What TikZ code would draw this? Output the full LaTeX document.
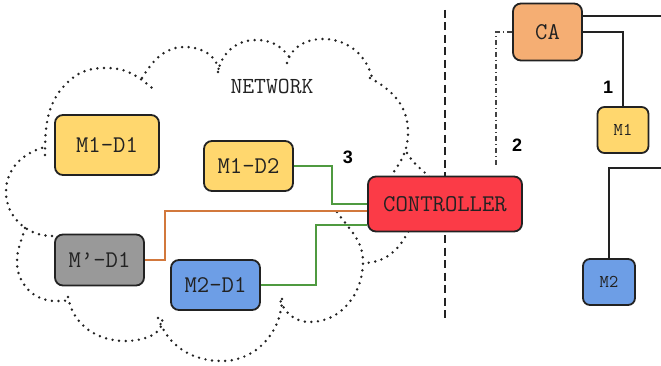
\documentclass[tikz,border=0pt]{standalone}
\usepackage{fontspec}
\usetikzlibrary{backgrounds}
\newfontfamily\numfont{Liberation Sans}

\definecolor{ink}{HTML}{222222}
\definecolor{yellowc}{HTML}{FFD76E}
\definecolor{orangec}{HTML}{F5AE73}
\definecolor{redc}{HTML}{FB3B47}
\definecolor{grayc}{HTML}{999999}
\definecolor{bluec}{HTML}{6D9EE6}
\definecolor{greenc}{HTML}{4F9A40}
\definecolor{rustc}{HTML}{D2783C}
\definecolor{dotc}{HTML}{222222}

\tikzset{
  box/.style={draw=ink, line width=1.8pt, rounded corners=8pt, inner sep=0pt,
    text=ink, font=\ttfamily\fontsize{24}{26}\selectfont},
  smallbox/.style={box, rounded corners=7pt, font=\ttfamily\fontsize{18}{20}\selectfont},
  num/.style={font=\numfont\bfseries\fontsize{18}{20}\selectfont, text=black},
  wire/.style={draw=ink, line width=2pt},
  greenwire/.style={draw=greenc, line width=2pt},
  rustwire/.style={draw=rustc, line width=2pt},
  cloudline/.style={draw=dotc, line width=2.7pt, line cap=round,
    dash pattern=on 0pt off 6.6pt},
  splitline/.style={draw=ink, line width=2pt, dash pattern=on 8pt off 4.5pt},
  dashdotline/.style={draw=ink!85, line width=1.4pt,
    dash pattern=on 5pt off 3pt on 1pt off 3pt},
}

\begin{document}
\begin{tikzpicture}[x=1pt, y=1pt]
\useasboundingbox (0,0) rectangle (661,-366);

% devices inside the network
\node[box, fill=yellowc, minimum width=104pt, minimum height=60pt] (m1d1) at (107,-145) {M1-D1};
\node[box, fill=yellowc, minimum width=89pt, minimum height=50pt] (m1d2) at (248.5,-166) {M1-D2};
\node[box, fill=grayc, minimum width=89pt, minimum height=51pt] (mpd1) at (99.5,-260) {M’-D1};
\node[box, fill=bluec, minimum width=89pt, minimum height=50pt] (m2d1) at (215.5,-285) {M2-D1};
\node[box, fill=redc, minimum width=154pt, minimum height=55pt] (ctrl) at (445,-204) {CONTROLLER};

% right-hand side
\node[box, fill=orangec, minimum width=69pt, minimum height=57pt] (ca) at (547.5,-32) {CA};
\node[smallbox, fill=yellowc, minimum width=51pt, minimum height=46pt] (m1) at (623,-130) {M1};
\node[smallbox, fill=bluec, minimum width=52pt, minimum height=46pt] (m2) at (609,-282) {M2};

\node[text=ink, font=\ttfamily\fontsize{23}{25}\selectfont] (net) at (272,-86) {NETWORK};

\node[num] (n1) at (608,-87) {1};
\node[num] (n2) at (517,-145) {2};
\node[num] (n3) at (348,-157) {3};

\coordinate (e1) at (661,-16);
\coordinate (e3) at (661,-168);
\coordinate (ddend) at (496,-167);
\coordinate (dtop) at (445,-10);
\coordinate (dbot) at (445,-318);

\begin{pgfonlayer}{background}
  \fill[white] (0,0) rectangle (661,-366);

  % network cloud
  \draw[cloudline] (45,-155) to[out=90,in=222] (70,-80) to[out=40,in=180] (107,-68) to[out=0,in=140] (152,-88);
  \draw[cloudline] (142,-78) to[out=58,in=180] (185,-47) to[out=0,in=95] (219,-72);
  \draw[cloudline] (218,-72) to[out=80,in=180] (256,-40) to[out=0,in=125] (290,-58);
  \draw[cloudline] (287,-63) to[out=75,in=180] (323,-39) to[out=0,in=100] (373,-82);
  \draw[cloudline] (370,-78) to[out=-28,in=90] (408,-132) to[out=-90,in=55] (393,-173);
  \draw[cloudline] (407,-153) to[out=-60,in=90] (440,-200) to[out=-90,in=60] (408,-232) to[out=243,in=0] (363,-263);
  \draw[cloudline] (337,-212) to[out=-55,in=90] (363,-262) to[out=-90,in=0] (310,-322) to[out=180,in=-70] (280,-300);
  \draw[cloudline] (158,-318) to[out=-70,in=180] (222,-361) to[out=0,in=-90] (282,-298);
  \draw[cloudline] (68,-297) to[out=-80,in=180] (125,-341) to[out=0,in=-80] (162,-318);
  \draw[cloudline] (25,-228) to[out=-105,in=90] (17,-262) to[out=-90,in=180] (55,-301) to[out=0,in=190] (70,-300);
  \draw[cloudline] (52,-236) to[out=180,in=-90] (6,-192) to[out=90,in=195] (45,-147);

  % separation line
  \draw[splitline] (dtop) -- (dbot);
\end{pgfonlayer}

% links from the devices to the controller
\draw[greenwire] (m1d2.east) -- ++(38,0) |- (ctrl.west);
\draw[rustwire] (mpd1.east) -- ++(20,0) |- ([yshift=-7pt]ctrl.west);
\draw[greenwire] (m2d1.east) -- ++(55,0) |- ([yshift=-21pt]ctrl.west);

% links on the right
\draw[dashdotline] (ca.west) -| (ddend);
\draw[wire] (ca.east |- e1) -- (e1);
\draw[wire] (ca.east) -| (m1.north);
\draw[wire] (e3) -| (m2.north);
\end{tikzpicture}
\end{document}
